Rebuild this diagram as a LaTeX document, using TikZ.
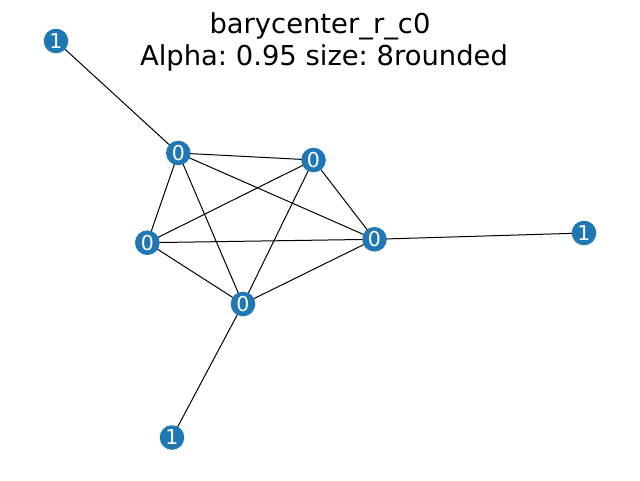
\documentclass[tikz,border=0pt]{standalone}
\usepackage{fontspec}
\setmainfont{DejaVu Sans}
\definecolor{nodeblue}{HTML}{1F77B4}
\begin{document}
\frenchspacing
\begin{tikzpicture}[x=1pt,y=-1pt,
  vtx/.style={circle,fill=nodeblue,draw=none,minimum size=24.6pt,inner sep=0pt,
    text=white,font=\fontsize{20.5}{20.5}\selectfont},
  edge/.style={draw=black,line width=1pt},
  title/.style={anchor=base,font=\fontsize{27.4}{27.4}\selectfont}]
\useasboundingbox (0,0) rectangle (640,480);
\node[title] (t1) at (320,33) {barycenter\_r\_c0};
\node[title] (t2) at (324,65) {Alpha: 0.95 size: 8rounded};
% vertices
\coordinate (pa) at (56,41);
\coordinate (pb) at (178.3,153);
\coordinate (pc) at (313.5,160);
\coordinate (pd) at (147.3,242.7);
\coordinate (pe) at (374.5,239.3);
\coordinate (pf) at (584,233);
\coordinate (pg) at (243,304);
\coordinate (ph) at (172,437.5);
% edges
\foreach \u/\v in {pa/pb,pb/pc,pb/pd,pb/pg,pb/pe,pc/pd,pc/pe,pc/pg,pd/pe,pd/pg,pg/pe,pe/pf,pg/ph}
  \draw[edge] (\u) -- (\v);
\node[vtx] (a) at (pa) {1};
\node[vtx] (b) at (pb) {0};
\node[vtx] (c) at (pc) {0};
\node[vtx] (d) at (pd) {0};
\node[vtx] (e) at (pe) {0};
\node[vtx] (f) at (pf) {1};
\node[vtx] (g) at (pg) {0};
\node[vtx] (h) at (ph) {1};
\end{tikzpicture}
\end{document}
